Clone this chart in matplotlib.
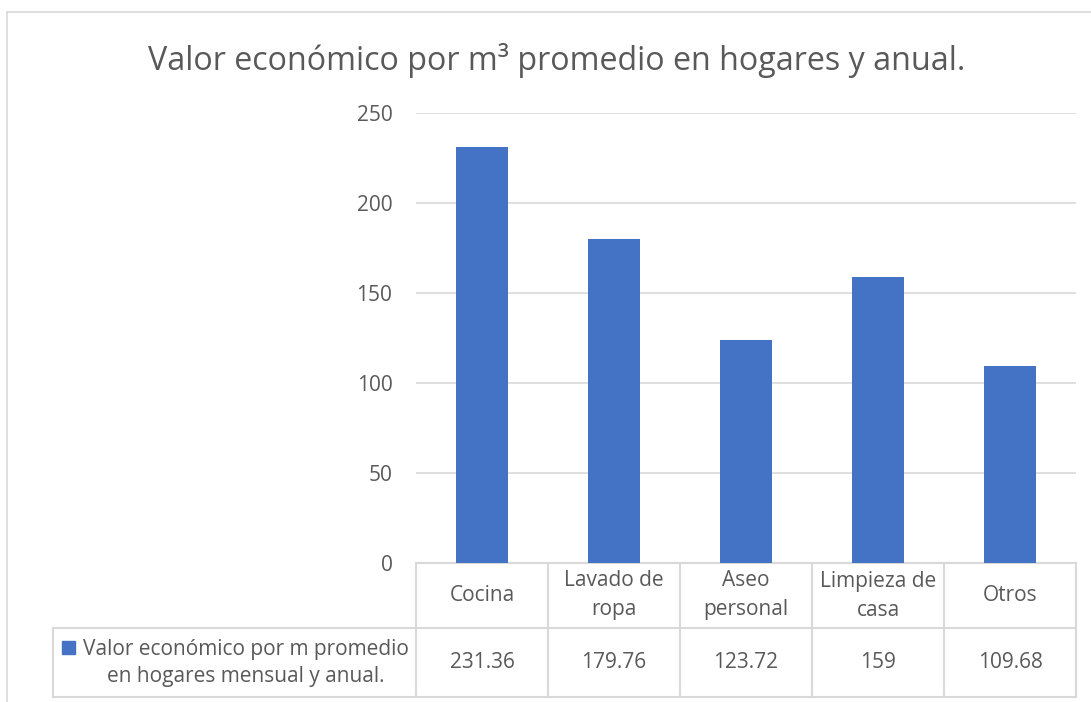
import matplotlib.pyplot as plt
import matplotlib.lines as mlines
import matplotlib.patches as mpatches

categories = ["Cocina", "Lavado de\nropa", "Aseo\npersonal", "Limpieza de\ncasa", "Otros"]
values = [231.36, 179.76, 123.72, 159, 109.68]
value_labels = ["231.36", "179.76", "123.72", "159", "109.68"]
yticks = [0, 50, 100, 150, 200, 250]
title = "Valor económico por m³ promedio en hogares y anual."
series_name = "Valor económico por m promedio\nen hogares mensual y anual."

plt.rcParams['font.family'] = ['Open Sans', 'DejaVu Sans']
W, H = 1091, 702
fig = plt.figure(figsize=(W / 100, H / 100), dpi=100)
grey = "#d9d9d9"
txt = "#595959"
blue = "#4472C4"

# outer chart frame
fig.add_artist(mlines.Line2D([7 / W, 7 / W], [0, 1 - 12 / H], color=grey, lw=1.2))
fig.add_artist(mlines.Line2D([7 / W, 1], [1 - 12 / H, 1 - 12 / H], color=grey, lw=1.2))

ax_l, ax_r, ax_t, ax_b = 416, 1076, 113, 563
ax = fig.add_axes([ax_l / W, 1 - ax_b / H, (ax_r - ax_l) / W, (ax_b - ax_t) / H])
x = list(range(len(categories)))
ax.bar(x, values, width=0.4, color=blue, zorder=3)
ax.set_xlim(-0.5, len(categories) - 0.5)
ax.set_ylim(0, 250)
ax.set_yticks(yticks)
ax.set_yticklabels([str(v) for v in yticks], fontsize=15, color=txt)
ax.tick_params(axis='y', length=0, pad=17)
ax.set_xticks([])
ax.grid(axis='y', color=grey, lw=1.2, zorder=0)
for s in ax.spines.values():
    s.set_visible(False)

fig.text(557 / W, 1 - 60 / H, title, ha='center', va='center', fontsize=23.2, color=txt)

# data table under the axes
h1 = (628 - 563) / (ax_b - ax_t)
h2 = (697 - 563) / (ax_b - ax_t)
leg_x = (53 - ax_l) / (ax_r - ax_l)
tab = dict(color=grey, lw=1.5, transform=ax.transAxes, clip_on=False)
ax.add_line(mlines.Line2D([0, 1], [0, 0], **tab))
ax.add_line(mlines.Line2D([leg_x, 1], [-h1, -h1], **tab))
ax.add_line(mlines.Line2D([leg_x, 1], [-h2, -h2], **tab))
ax.add_line(mlines.Line2D([leg_x, leg_x], [-h1, -h2], **tab))
n = len(categories)
for i in range(n + 1):
    ax.add_line(mlines.Line2D([i / n, i / n], [0, -h2], **tab))
for i, (c, v) in enumerate(zip(categories, value_labels)):
    cx = (i + 0.5) / n
    ax.text(cx, -h1 / 2, c, transform=ax.transAxes, ha='center', va='center',
            fontsize=15, color=txt, linespacing=1.5)
    ax.text(cx, -(h1 + h2) / 2, v, transform=ax.transAxes, ha='center', va='center',
            fontsize=15, color=txt)

ax.add_patch(mpatches.Rectangle((62 / W, 1 - 654 / H), 13 / W, 13 / H, color=blue,
                                transform=fig.transFigure, clip_on=False))
fig.text(246 / W, 1 - 663 / H, series_name, ha='center', va='center', fontsize=15,
         color=txt, linespacing=1.42)

fig.savefig("out.png", dpi=100)
